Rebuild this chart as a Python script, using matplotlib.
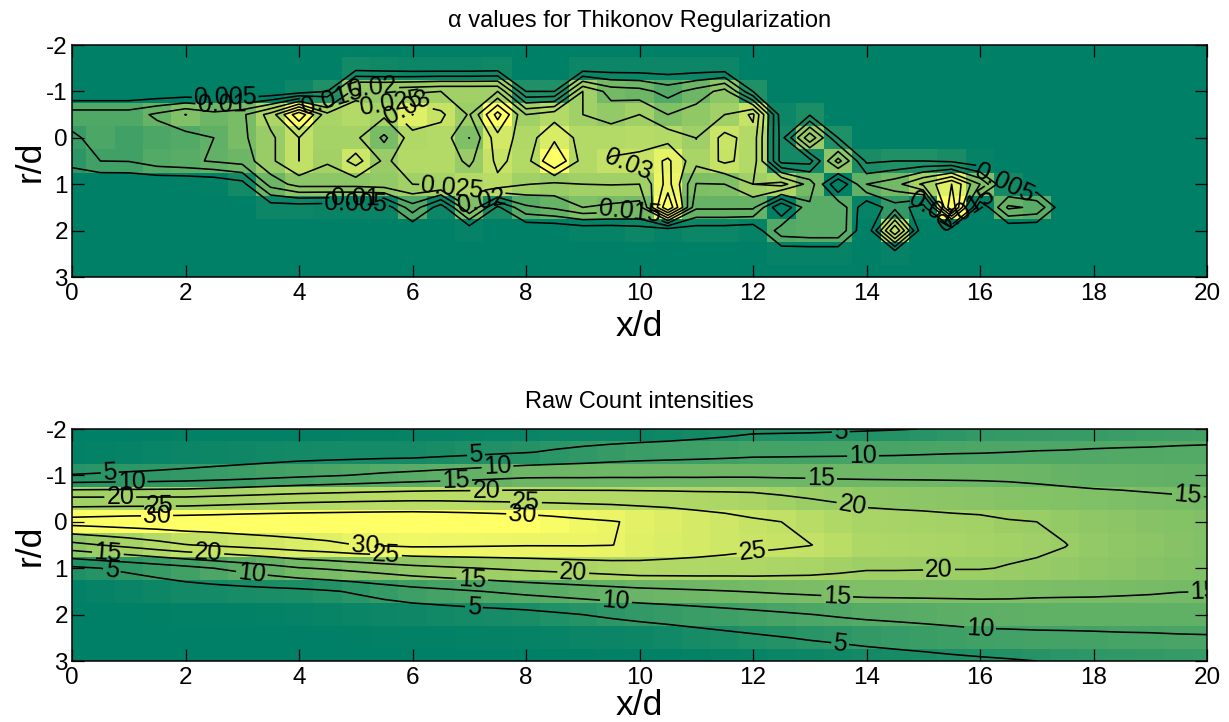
import numpy as np
import matplotlib
matplotlib.use("Agg")
import matplotlib.pyplot as plt

plt.rcParams['font.family'] = ['Liberation Sans', 'DejaVu Sans']
plt.rcParams['axes.unicode_minus'] = False

x_d = [i * 0.5 for i in range(41)]
r_d = [-2, -1.5, -1, -.5, 0, .5, 1, 1.5, 2, 2.5, 3]

# alpha x 1000, one list per x/d column, rows follow r_d
alpha_milli = [
 [0,0,0,12.5,9,7,0,0,0,0,0],
 [0,0,0,12.5,12,10,0,0,0,0,0],
 [0,0,0,12.5,10,10.2,0,0,0,0,0],
 [0,0,0,16,12,13,0,0,0,0,0],
 [0,0,0,20.1,13,14,0,0,0,0,0],
 [0,0,0,17,15,15.5,.5,0,0,0,0],
 [0,0,0,19,19,17,3,0,0,0,0],
 [0,0,0,27,24,24,17,2,0,0,0],
 [0,0,2,44,30.01,30.01,22,2,0,0,0],
 [0,0,5,26.5,26,25.5,22,1.5,0,0,0],
 [0,3,23,28,26,32,22,1.5,0,0,0],
 [0,2.5,23,26,19,24,23,1.5,0,0,0],
 [0,2,24,35.1,27.5,28,25,13,0,0,0],
 [0,2,25,31,28,28,26,2,0,0,0],
 [0,2,25,24.5,19.9,24,28,20,1,0,0],
 [0,2.5,25,42,33,31,29,4,0,0,0],
 [0,0,5,25,27.5,28,25.2,14,0,0,0],
 [0,0,5,28,34,40,24,16,0,0,0],
 [0,2,25.01,25.01,28,28,25,20,1,0,0],
 [0,2,18,23,28,30.5,25.2,19,1,0,0],
 [0,2,17,25,28.5,31,25,18,2,0,0],
 [0,2,13,20,28,36,37,45,1,0,0],
 [0,2,17,22.5,24.9,26.5,19.8,16,2,0,0],
 [0,2,22,25,31.5,31,20,16,2,0,0],
 [0,0,5,31,28,28,25,16,1,0,0],
 [0,0,0,2,3,3,27,0,13,1,0],
 [0,0,0,4.5,24,3,18,14,14,1,0],
 [0,0,0,0,5,22,0,14,14,1,0],
 [0,0,0,0,0,4,15,1,0,0,0],
 [0,0,0,0,0,5,18,8,30,1,0],
 [0,0,0,0,0,5,26,2,0,0,0],
 [0,0,0,0,0,4,35,40,0,0,0],
 [0,0,0,0,0,1,20,0,0,0,0],
 [0,0,0,0,0,0,3,16,0,0,0],
 [0,0,0,0,0,0,0,14,0,0,0],
 [0,0,0,0,0,0,0,0,0,0,0],
 [0,0,0,0,0,0,0,0,0,0,0],
 [0,0,0,0,0,0,0,0,0,0,0],
 [0,0,0,0,0,0,0,0,0,0,0],
 [0,0,0,0,0,0,0,0,0,0,0],
 [0,0,0,0,0,0,0,0,0,0,0],
]

raw_counts = [
 [0,.5,5.2,21,32.2,18.4,4,.5,0,0,0],
 [0,.6,5.5,21,32.6,20,5,.8,0,0,0],
 [.1,.8,5.8,21,33,21.5,6,1.2,.1,0,0],
 [.2,1.1,6.1,21,33.2,23.2,7.2,1.8,.2,0,0],
 [.3,1.5,6.5,21,33.5,24.8,8.5,2.5,.3,0,0],
 [.3,1.8,7,21.5,33.7,25.6,10,2.8,.4,0,0],
 [.4,2,7.6,22,34,26.5,11.5,3.1,.5,0,0],
 [.4,2.2,8.3,22.5,34.2,27.3,13,3.4,.6,0,0],
 [.5,2.5,9,23,34.3,28.2,14.7,3.7,.8,0,0],
 [.5,2.6,9.6,23.3,34.4,29,15.5,4.5,1,.1,0],
 [.6,2.7,10.2,23.6,34.5,30,16.5,5.5,1.3,.2,0],
 [.7,2.8,10.9,23.8,34.6,30.5,17.5,6.8,1.6,.3,0],
 [.8,2.8,11.5,24,34.6,31,18.5,8,2,.4,0],
 [.9,3.3,12.1,24,34.3,30.9,19.2,8.8,2.3,.5,.1],
 [1,3.8,12.7,23.8,34,30.7,19.8,9.6,2.7,.6,.1],
 [1.1,4.3,13.4,23.7,33.5,30.5,20.4,10.4,3,.7,.1],
 [1.2,4.8,14,23.5,33,30.3,21,11.2,3.4,.8,.1],
 [1.3,5.5,14.1,23.4,32,30.3,21.5,11.8,4.2,1,.2],
 [1.4,6.2,14.1,23.3,31,30.3,22,12.4,5,1.3,.2],
 [1.4,6.9,14.2,23.2,30.3,30.1,22.5,13,5.7,1.5,.3],
 [1.5,7.5,14.2,23,29.3,29,23,13.6,6.4,1.8,.3],
 [1.9,7.8,14.3,22.8,28.5,28.2,22.9,14,6.9,2.4,.4],
 [2.5,8.1,14.3,22.5,27.5,27.5,22.8,14.4,7.5,3,.6],
 [3.2,8.4,14.4,22.3,26.6,26.8,22.6,14.8,8.1,3.6,.8],
 [4,8.8,14.4,22,25.6,26,22.5,15.2,8.7,4.2,1],
 [4.1,8.9,14.3,21,25,25.6,22.1,15.6,9.3,4.8,1.3],
 [4.2,9,14.3,20,23.8,25.1,21.8,15.9,9.9,5.4,1.7],
 [4.4,9.1,14.2,19.4,22.8,24,21.1,16.2,10.5,5.9,2.1],
 [4.6,9.2,14.2,18.8,21.9,22.5,20.4,16.4,11,6.5,2.5],
 [4.8,9.3,14.2,18.5,21.7,22.3,20.4,16.4,11.3,7,2.9],
 [5.05,9.5,14.2,18.3,21.5,22.1,20.3,16.4,11.6,7.5,3.3],
 [5.8,9.7,14.2,18,21.2,21.8,20.2,16.4,11.9,8,3.8],
 [6.5,9.8,14.2,17.7,21,21.5,20.2,16.4,12.2,8.5,4.2],
 [6.7,10,14.1,17.4,20.3,21,19.8,16.3,12.3,8.6,4.6],
 [6.9,10.2,13.8,17.1,20,20.6,19.5,16,12.4,8.8,5],
 [7,10.3,13.4,16.8,19.2,20.1,19,15.9,12.4,8.9,5.5],
 [7.2,10.5,13,16.5,18.5,19,18.5,15.8,12.5,9,6],
 [7.5,10.6,12.9,16.2,18,18.5,18,15.6,12.5,9.2,6.3],
 [7.9,10.6,12.8,15.8,17.5,18,17.5,15.4,12.5,9.3,6.5],
 [8.2,10.7,12.6,15.5,17.1,17.5,17,15.1,12.5,9.5,6.8],
 [8.5,10.7,12.5,15.2,16.7,17,16.5,15,12.5,9.6,7],
]

alpha_levels = [.005, .01, .015, .02, .025, .03, .035, .04]
count_levels = [5, 10, 15, 20, 25, 30]
x_ticks = list(range(0, 21, 2))
r_ticks = [-2, -1, 0, 1, 2, 3]

alpha_label_spots = {
    .005: [(2.7, -.85), (5.0, 1.62), (16.35, 1.1)],
    .01: [(2.64, -.7), (5.0, 1.47), (15.4, 1.15)],
    .015: [(4.6, -.8), (9.83, 1.5), (15.6, 1.3)],
    .02: [(5.3, -.98), (7.2, 1.34)],
    .025: [(5.6, -.8), (6.7, 1.08)],
    .03: [(5.87, -.75), (9.8, .5)],
}
count_label_spots = {
    5: [(.67, -.95), (.7, 1.06), (7.12, -1.42), (7.08, 1.88), (13.55, -1.83), (13.53, 2.68)],
    10: [(1.05, -.8), (3.17, 1.1), (7.5, -1.14), (9.58, 1.8), (13.94, -1.35), (16, 2.35)],
    15: [(.63, .72), (6.77, -.84), (7.05, 1.3), (13.2, -.88), (13.48, 1.68), (19.66, -.53), (19.95, 1.5)],
    20: [(.85, -.53), (2.4, .7), (7.3, -.64), (8.83, 1.17), (13.75, -.36), (15.28, 1.15)],
    25: [(1.55, -.3), (5.53, .78), (8, -.4), (12, .76)],
    30: [(1.5, -.04), (5.16, .54), (7.93, -.06)],
}

W, H = 1229, 722
fig = plt.figure(figsize=(W / 100, H / 100), dpi=100)


def panel(top, bottom, values, vmax, levels, spots, title, title_pad, xlabel_pad):
    ax = fig.add_axes([72 / W, 1 - bottom / H, (1207 - 72) / W, (bottom - top) / H])
    z = np.array(values).T
    ax.pcolormesh(x_d, r_d, z, shading='nearest', cmap='summer', vmin=0, vmax=vmax,
                  antialiased=False, linewidth=0)
    ax.set_xlim(0, 20)
    ax.set_ylim(3, -2)
    for lev in levels:
        cs = ax.contour(x_d, r_d, z, levels=[lev], colors='k', linewidths=1.15)
        if lev in spots:
            ax.clabel(cs, manual=spots[lev], fmt='%g', fontsize=18,
                      inline=True, inline_spacing=2, colors='k')
            for t in cs.labelTexts:
                t.set_clip_on(True)
                t.set_clip_box(ax.bbox)
    ax.set_xlim(0, 20)
    ax.set_ylim(3, -2)
    ax.set_xticks(x_ticks)
    ax.set_yticks(r_ticks)
    ax.tick_params(direction='in', top=True, right=True, length=8.5, width=0.9,
                   labelsize=17.5, pad=4)
    ax.tick_params(axis='y', pad=3)
    for s in ax.spines.values():
        s.set_linewidth(1.1)
    ax.set_xlabel('x/d', fontsize=25.5, labelpad=xlabel_pad)
    ax.set_ylabel('r/d', fontsize=25.5, labelpad=0)
    ax.set_title(title, fontsize=17, pad=title_pad)
    return ax


panel(45, 277, [[v / 1000 for v in c] for c in alpha_milli], .04, alpha_levels,
      alpha_label_spots, '\u03b1 values for Thikonov Regularization', 13, 4)
panel(429, 661, raw_counts, 33, count_levels, count_label_spots, 'Raw Count intensities', 15, 0)

fig.savefig('out.png', dpi=100)
